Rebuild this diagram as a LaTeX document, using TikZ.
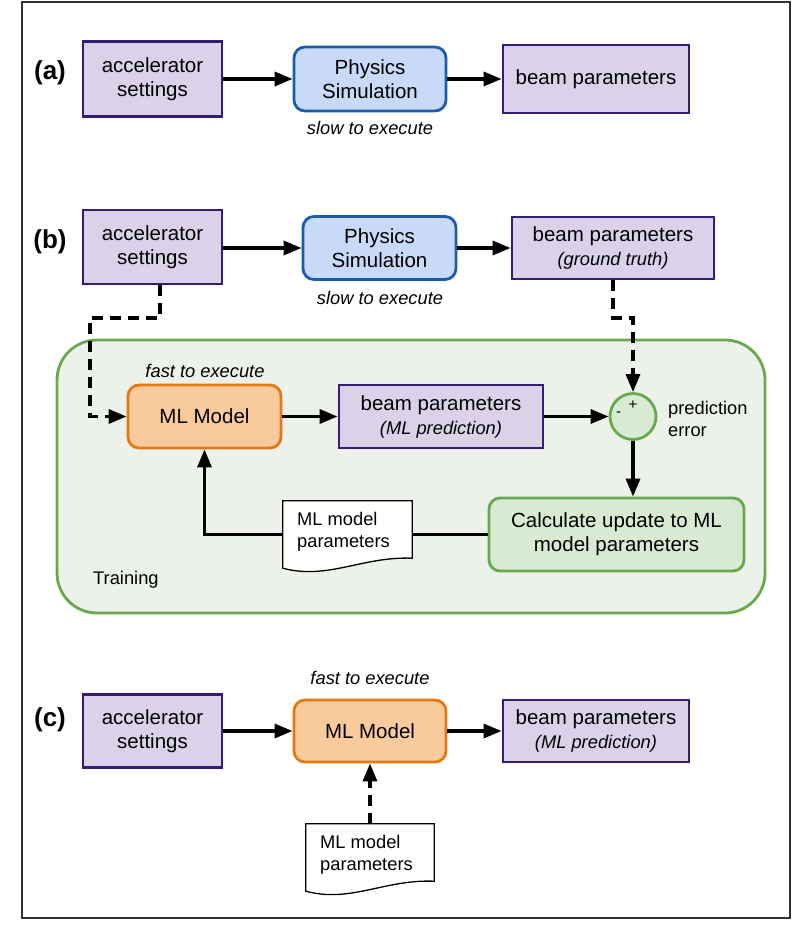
\documentclass[tikz,border=0pt]{standalone}
\usepackage{fontspec}
\setmainfont{Liberation Sans}
\usetikzlibrary{arrows.meta,calc}
\definecolor{pfill}{HTML}{D9D2E9}
\definecolor{pdraw}{HTML}{351C75}
\definecolor{bfill}{HTML}{C9DAF8}
\definecolor{bdraw}{HTML}{1C5CA8}
\definecolor{ofill}{HTML}{F9CB9C}
\definecolor{odraw}{HTML}{E47812}
\definecolor{gdraw}{HTML}{6AA84F}
\definecolor{gfill}{HTML}{D9EAD3}
\definecolor{tfill}{HTML}{ECF1E9}
\newcommand\bigf{\fontsize{20.5}{24}\selectfont}
\newcommand\midf{\fontsize{18.3}{22}\selectfont}
\newcommand\labf{\fontsize{26}{30}\selectfont\bfseries}
\tikzset{
  boxbase/.style={align=center, font=\bigf, inner sep=0pt, line width=2.8pt},
  pbox/.style={boxbase, rectangle, draw=pdraw, fill=pfill},
  simbox/.style={boxbase, rectangle, rounded corners=11pt, draw=bdraw, fill=bfill},
  mlbox/.style={boxbase, rectangle, rounded corners=11pt, draw=odraw, fill=ofill},
  calcbox/.style={boxbase, rectangle, rounded corners=11pt, draw=gdraw, fill=gfill},
  trainbox/.style={rectangle, rounded corners=40pt, draw=gdraw, fill=tfill, line width=2.8pt, inner sep=0pt},
  sumnode/.style={circle, draw=gdraw, fill=gfill, line width=2.8pt, minimum size=46pt, inner sep=0pt},
  note/.style={font=\midf\itshape, inner sep=0pt},
  plain/.style={font=\midf, inner sep=0pt},
  lab/.style={font=\labf, inner sep=0pt},
  docarea/.style={rectangle, inner sep=0pt, draw=none},
  docline/.style={draw=black, fill=white, line width=1.3pt},
  conn/.style={line width=3.3pt, -{Triangle[length=18pt,width=14pt]}},
  plainline/.style={line width=3.3pt},
  dconn/.style={conn, dash pattern=on 11pt off 7pt},
}
\begin{document}
\begin{tikzpicture}[x=1pt,y=-1pt]
\useasboundingbox (0,0) rectangle (807,928);
\draw[line width=1.5pt, black!80] (22,2) rectangle (790,918);

% row (a)
\node[lab] (la) at (50,73) {(a)};
\node[pbox, minimum width=139pt, minimum height=75pt] (accA) at (152.5,79) {accelerator\\settings};
\node[simbox, minimum width=152pt, minimum height=64pt] (physA) at (370,79) {Physics\\Simulation};
\node[pbox, minimum width=186pt, minimum height=68pt] (beamA) at (596,79) {beam parameters};
\node[note] (slowA) at (370,128) {slow to execute};
\draw[conn] (accA) -- (physA);
\draw[conn] (physA) -- (beamA);

% row (b)
\node[lab] (lb) at (50,242) {(b)};
\node[pbox, minimum width=139pt, minimum height=74pt] (accB) at (152.5,247) {accelerator\\settings};
\node[simbox, minimum width=153pt, minimum height=63pt] (physB) at (379.5,248) {Physics\\Simulation};
\node[pbox, minimum width=202pt, minimum height=62pt] (beamB) at (613,248) {beam parameters\\{\midf\itshape (ground truth)}};
\node[note] (slowB) at (380,298) {slow to execute};
\draw[conn] (accB.east |- physB.west) -- (physB.west);
\draw[conn] (physB) -- (beamB);

% training block
\node[trainbox, minimum width=708pt, minimum height=273pt] (train) at (411,476.5) {};
\node[plain, anchor=west] (trainlab) at (93,580) {Training};
\node[note] (fastB) at (205,371) {fast to execute};
\node[mlbox, minimum width=153pt, minimum height=63pt] (mlB) at (204.5,416.5) {ML Model};
\node[pbox, minimum width=204pt, minimum height=63pt] (beamPB) at (441,416.5) {beam parameters\\{\midf\itshape (ML prediction)}};
\node[sumnode] (sum) at (633,416.5) {};
\node[font=\fontsize{15}{15}\selectfont, inner sep=0pt] (plus) at (633,405) {+};
\node[font=\fontsize{15}{15}\selectfont, inner sep=0pt] (minus) at (618.5,414) {-};
\node[plain, anchor=west, align=left] (perr) at (668,419) {prediction\\error};
\node[calcbox, minimum width=255pt, minimum height=73pt] (calc) at (616.5,534.5) {Calculate update to ML\\model parameters};
\node[docarea, minimum width=129pt, minimum height=57pt] (docB) at (347.5,529.5) {};
\path[docline] (docB.north west) -- (docB.north east) -- (docB.south east)
  .. controls +(-50,-2) and +(45,12) .. ($(docB.south west)+(0,10)$) -- cycle;
\node[plain, anchor=west, align=left] (docBt) at (297,532) {ML model\\parameters};

\coordinate (d1) at (160,318);
\coordinate (d2) at (90,318);
\draw[dconn] (accB.south -| d1) -- (d1) -- (d2) |- (mlB.west);
\coordinate (g2) at (633,318);
\draw[dconn] (beamB.south) |- (g2) -- (sum.north);
\draw[conn] (mlB) -- (beamPB);
\draw[conn] (beamPB) -- (sum);
\draw[conn] (sum.south) -- (sum.south |- calc.north);
\draw[plainline] (calc.west) -- (calc.west -| docB.east);
\draw[conn] (calc.west -| docB.west) -| (mlB.south);

% row (c)
\node[lab] (lc) at (50,720) {(c)};
\node[pbox, minimum width=139pt, minimum height=73pt] (accC) at (152.5,731) {accelerator\\settings};
\node[note] (fastC) at (370,678) {fast to execute};
\node[mlbox, minimum width=152pt, minimum height=62pt] (mlC) at (370,731) {ML Model};
\node[pbox, minimum width=186pt, minimum height=62pt] (beamC) at (596,731) {beam parameters\\{\midf\itshape (ML prediction)}};
\node[docarea, minimum width=128pt, minimum height=57pt] (docC) at (370,852.5) {};
\path[docline] (docC.north west) -- (docC.north east) -- (docC.south east)
  .. controls +(-50,-2) and +(45,12) .. ($(docC.south west)+(0,10)$) -- cycle;
\node[plain, anchor=west, align=left] (docCt) at (320,855) {ML model\\parameters};
\draw[conn] (accC) -- (mlC);
\draw[conn] (mlC) -- (beamC);
\draw[dconn] (docC.north) -- (mlC.south);
\end{tikzpicture}
\end{document}
